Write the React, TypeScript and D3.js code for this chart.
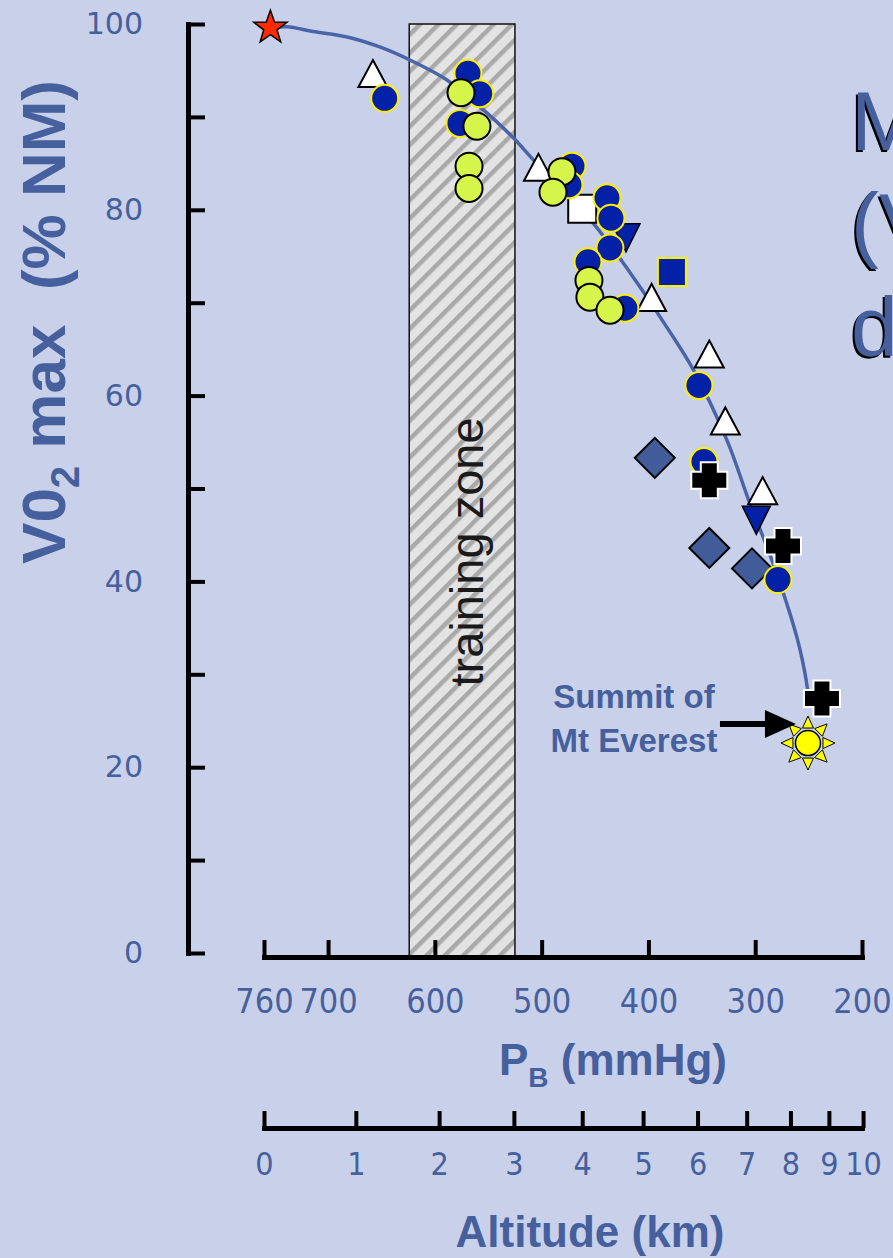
import * as d3 from "d3";
import { useEffect, useRef } from "react";

const W = 893;
const H = 1258;

// axis ticks
const vo2Ticks = [0, 10, 20, 30, 40, 50, 60, 70, 80, 90, 100];
const vo2Labels = [0, 20, 40, 60, 80, 100];
const pressureTicks = [760, 700, 600, 500, 400, 300, 200];
const altitudeKm = [0, 1, 2, 3, 4, 5, 6, 7, 8, 9, 10];
const altitudePressure = [760, 674, 596, 526, 462, 405, 354, 308, 267, 231, 199];
const trainingZone = [624, 525];

// [P_B mmHg, VO2max %]
const fitCurve = [
  [754, 99.6], [738.5, 99.7], [714, 99.2], [682, 98.6], [651, 97.5], [623, 96.1],
  [589, 94.0], [558, 91.1], [527, 87.8], [508, 85.4], [452, 78.6], [417, 73.2],
  [383, 67.4], [358, 62.8], [326.5, 55.2], [305, 48.4], [283.4, 42.0], [261, 34.0],
  [253.4, 30.1], [249, 26.7],
];
const seaLevel = [[754, 99.6]];
const whiteTriangles = [[658, 94.4], [503, 84.3], [397, 70.3], [343, 64.2], [328, 57], [293, 49.5]];
const blueTrianglesDown = [[421, 77.2], [299, 46.8]];
const diamonds = [[394, 53.3], [343, 43.6], [303, 41.4]];
const whiteSquares = [[462, 80.1]];
const blueSquares = [[378, 73.3]];
const blueCircles = [
  [647, 92.0], [569, 94.7], [558, 92.5], [576.5, 89.3], [471.6, 84.7], [474.4, 82.7],
  [438.8, 81.3], [435.1, 79.1], [436, 75.9], [456.6, 74.4], [422, 69.4], [352.7, 61.1],
  [348, 52.9], [278.7, 40.2],
];
const greenCircles = [
  [575.5, 92.6], [560.6, 89.0], [568, 84.7], [568, 82.3], [481, 84.1], [489.4, 81.9],
  [455.7, 72.4], [454.8, 70.6], [436, 69.2],
];
const crosses = [[343, 50.9], [274, 43.8], [237.5, 27.4]];
const everest = [[250.6, 22.6]];

const BLUE_TEXT = "#46609e";
const NARROW = "DejaVu Sans Condensed, DejaVu Sans, sans-serif";

export default function App() {
  const ref = useRef(null);

  useEffect(() => {
    document.body.style.margin = "0";
    const svg = d3.select(ref.current);
    svg.selectAll("*").remove();

    const x = d3.scaleLinear().domain([760, 200]).range([264, 862]);
    const y = d3.scaleLinear().domain([0, 100]).range([953, 24]);

    svg.append("rect").attr("width", W).attr("height", H).attr("fill", "#c9d1ea");

    // hatch pattern
    const defs = svg.append("defs");
    const pat = defs.append("pattern")
      .attr("id", "hatch")
      .attr("patternUnits", "userSpaceOnUse")
      .attr("width", 13)
      .attr("height", 13)
      .attr("patternTransform", "rotate(45)");
    pat.append("rect").attr("width", 13).attr("height", 13).attr("fill", "#e3e3e3");
    pat.append("rect").attr("width", 4.5).attr("height", 13).attr("fill", "#a9a9a9");

    // training zone
    svg.append("rect")
      .attr("x", x(trainingZone[0]))
      .attr("y", y(100))
      .attr("width", x(trainingZone[1]) - x(trainingZone[0]))
      .attr("height", 957 - y(100))
      .attr("fill", "url(#hatch)")
      .attr("stroke", "#111")
      .attr("stroke-width", 1.5);

    svg.append("text")
      .attr("transform", `translate(${(x(trainingZone[0]) + x(trainingZone[1])) / 2 + 21},552) rotate(-90)`)
      .attr("text-anchor", "middle")
      .attr("font-family", "Liberation Sans, Arial, sans-serif")
      .attr("font-size", 47)
      .attr("fill", "#1a1a1a")
      .text("training zone");

    // Y axis
    const yAxis = svg.append("g")
      .attr("transform", "translate(188,0)")
      .call(d3.axisLeft(y)
        .tickValues(vo2Ticks)
        .tickSizeInner(-17)
        .tickSizeOuter(0)
        .tickPadding(45)
        .tickFormat((d) => (vo2Labels.includes(d) ? String(d) : "")))
      .attr("color", "#000");
    yAxis.select(".domain").attr("stroke-width", 5).attr("stroke-linecap", "square");
    yAxis.selectAll(".tick line").attr("stroke-width", 4);
    yAxis.selectAll("text")
      .attr("font-family", "DejaVu Sans, Verdana, sans-serif")
      .attr("font-size", 30)
      .attr("fill", BLUE_TEXT);

    // P_B axis
    const pAxis = svg.append("g")
      .attr("transform", "translate(0,957)")
      .call(d3.axisBottom(x).tickValues(pressureTicks).tickSizeInner(-17).tickSizeOuter(0))
      .attr("color", "#000");
    pAxis.select(".domain").attr("stroke-width", 5).attr("stroke-linecap", "square");
    pAxis.selectAll(".tick line").attr("stroke-width", 4);
    pAxis.selectAll("text")
      .attr("y", 56)
      .attr("dy", 0)
      .attr("font-family", NARROW)
      .attr("font-stretch", "condensed")
      .attr("font-size", 34)
      .attr("fill", BLUE_TEXT);

    // altitude axis
    const aAxis = svg.append("g")
      .attr("transform", "translate(0,1128)")
      .call(d3.axisBottom(x)
        .tickValues(altitudePressure)
        .tickSizeInner(-17)
        .tickSizeOuter(0)
        .tickFormat((d, i) => String(altitudeKm[i])))
      .attr("color", "#000");
    aAxis.select(".domain").attr("stroke-width", 5).attr("stroke-linecap", "square");
    aAxis.selectAll(".tick line").attr("stroke-width", 4);
    aAxis.selectAll("text")
      .attr("y", 47)
      .attr("dy", 0)
      .attr("font-family", NARROW)
      .attr("font-stretch", "condensed")
      .attr("font-size", 32)
      .attr("fill", BLUE_TEXT);

    // axis titles
    const pt = svg.append("text")
      .attr("x", 613)
      .attr("y", 1075)
      .attr("text-anchor", "middle")
      .attr("font-family", "Liberation Sans, Arial, sans-serif")
      .attr("font-weight", "bold")
      .attr("font-size", 44)
      .attr("fill", BLUE_TEXT);
    pt.append("tspan").text("P");
    pt.append("tspan").attr("font-size", 28).attr("dy", 12).text("B");
    pt.append("tspan").attr("dy", -12).text(" (mmHg)");

    svg.append("text")
      .attr("x", 590)
      .attr("y", 1247)
      .attr("text-anchor", "middle")
      .attr("font-family", "Liberation Sans, Arial, sans-serif")
      .attr("font-weight", "bold")
      .attr("font-size", 44)
      .attr("fill", BLUE_TEXT)
      .text("Altitude (km)");

    const yt = svg.append("text")
      .attr("transform", "translate(65,322) rotate(-90)")
      .attr("text-anchor", "middle")
      .attr("font-family", "Liberation Sans, Arial, sans-serif")
      .attr("font-weight", "bold")
      .attr("font-size", 62)
      .attr("fill", BLUE_TEXT);
    yt.append("tspan").text("V0");
    yt.append("tspan").attr("font-size", 40).attr("dy", 14).text("2");
    yt.append("tspan").attr("dy", -14).text(" max  (% NM)").style("white-space", "pre");

    // clipped slide title on the right
    const titleLines = ["M", "(V", "d"];
    const baselines = [150, 252, 356];
    titleLines.forEach((t, i) => {
      svg.append("text")
        .attr("x", 849)
        .attr("y", baselines[i] + 2)
        .attr("font-family", "Liberation Sans, Arial, sans-serif")
        .attr("font-size", 84)
        .attr("fill", "#000")
        .text(t);
      svg.append("text")
        .attr("x", 851)
        .attr("y", baselines[i])
        .attr("font-family", "Liberation Sans, Arial, sans-serif")
        .attr("font-size", 84)
        .attr("fill", BLUE_TEXT)
        .text(t);
    });

    // fitted curve
    const line = d3.line()
      .x((d) => x(d[0]))
      .y((d) => y(d[1]))
      .curve(d3.curveCatmullRom.alpha(0.5));
    svg.append("path")
      .datum(fitCurve)
      .attr("fill", "none")
      .attr("stroke", "#4a64a8")
      .attr("stroke-width", 3.5)
      .attr("stroke-linecap", "round")
      .attr("d", line);

    const drawShape = (data, path, fill, stroke, sw) => {
      svg.append("g")
        .selectAll("path")
        .data(data)
        .join("path")
        .attr("transform", (d) => `translate(${x(d[0])},${y(d[1])})`)
        .attr("d", path)
        .attr("fill", fill)
        .attr("stroke", stroke)
        .attr("stroke-width", sw)
        .attr("stroke-linejoin", "miter");
    };
    const drawCircles = (data, fill, stroke) => {
      svg.append("g")
        .selectAll("circle")
        .data(data)
        .join("circle")
        .attr("cx", (d) => x(d[0]))
        .attr("cy", (d) => y(d[1]))
        .attr("r", 13.5)
        .attr("fill", fill)
        .attr("stroke", stroke)
        .attr("stroke-width", 2);
    };

    drawShape(whiteTriangles, "M0,-16L14.5,11L-14.5,11Z", "#fff", "#000", 2);
    drawShape(blueTrianglesDown, "M-14,-12L14,-12L0,16Z", "#0321a6", "#000", 1.5);
    drawShape(diamonds, "M0,-20L20,0L0,20L-20,0Z", "#415c99", "#000", 2);
    drawShape(whiteSquares, "M-14,-14h28v28h-28Z", "#fff", "#000", 2);
    drawShape(blueSquares, "M-14,-14h28v28h-28Z", "#0321a6", "#ffee00", 2);
    drawCircles(blueCircles, "#0321a6", "#ffee00");
    drawCircles(greenCircles, "#d5f54b", "#000");
    drawShape(crosses,
      "M-8.5,-18h17v9.5h9.5v17h-9.5v9.5h-17v-9.5h-9.5v-17h9.5Z",
      "#000", "#fff", 2);

    // star at sea level
    const starPath = d3.range(10).map((i) => {
      const r = i % 2 === 0 ? 17.5 : 7;
      const a = (i * Math.PI) / 5 - Math.PI / 2;
      return [r * Math.cos(a), r * Math.sin(a)];
    });
    drawShape(seaLevel, "M" + starPath.map((p) => p.join(",")).join("L") + "Z", "#ff2a00", "#000", 1.5);

    // Everest sun
    const sun = svg.append("g")
      .selectAll("g")
      .data(everest)
      .join("g")
      .attr("transform", (d) => `translate(${x(d[0])},${y(d[1])})`);
    d3.range(8).forEach((k) => {
      const a = (k * Math.PI) / 4 - Math.PI / 2;
      const c = Math.cos(a), s = Math.sin(a);
      const b1 = [15 * c - 5.5 * s, 15 * s + 5.5 * c];
      const b2 = [15 * c + 5.5 * s, 15 * s - 5.5 * c];
      const tip = [27 * c, 27 * s];
      sun.append("path")
        .attr("d", `M${b1}L${tip}L${b2}Z`)
        .attr("fill", "#ffff00")
        .attr("stroke", "#000")
        .attr("stroke-width", 1);
    });
    sun.append("circle").attr("r", 12.5).attr("fill", "#ffff00").attr("stroke", "#000").attr("stroke-width", 1.5);

    // annotation
    const ex = x(everest[0][0]);
    const ey = y(everest[0][1]);
    svg.append("line")
      .attr("x1", ex - 88)
      .attr("x2", ex - 40)
      .attr("y1", ey - 19)
      .attr("y2", ey - 19)
      .attr("stroke", "#000")
      .attr("stroke-width", 6);
    svg.append("path")
      .attr("d", `M${ex - 43},${ey - 33}L${ex - 12},${ey - 19}L${ex - 43},${ey - 5}Z`)
      .attr("fill", "#000");
    const ann = svg.append("text")
      .attr("text-anchor", "middle")
      .attr("font-family", "Liberation Sans, Arial, sans-serif")
      .attr("font-weight", "bold")
      .attr("font-size", 33)
      .attr("fill", BLUE_TEXT);
    ann.append("tspan").attr("x", ex - 174).attr("y", ey - 35).text("Summit of");
    ann.append("tspan").attr("x", ex - 174).attr("y", ey + 9).text("Mt Everest");
  }, []);

  return <svg ref={ref} width={W} height={H} style={{ display: "block" }} />;
}
